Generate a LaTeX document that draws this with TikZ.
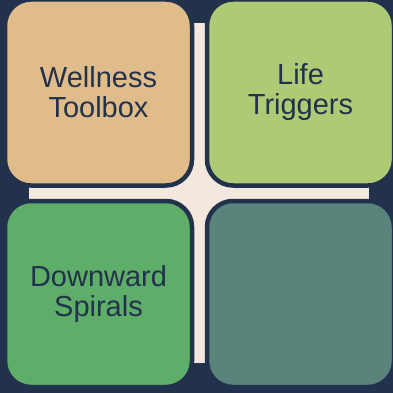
\documentclass[tikz,border=0pt]{standalone}
\usepackage{fontspec}
\setmainfont{Liberation Sans}
\usetikzlibrary{positioning}

\definecolor{navy}{HTML}{22314C}
\definecolor{cream}{HTML}{F4E8DE}
\definecolor{tan}{HTML}{E1BC8B}
\definecolor{lime}{HTML}{AFCA74}
\definecolor{leaf}{HTML}{5EAD68}
\definecolor{teal}{HTML}{5A847B}

\begin{document}
\begin{tikzpicture}[
  x=1pt, y=-1pt,
  tile/.style={draw=navy, line width=4.5pt, rounded corners=26pt, align=center,
               minimum width=187pt, minimum height=186pt, inner sep=0pt,
               text=navy, font=\fontsize{29}{30}\selectfont}
]
% background
\fill[navy] (0,0) rectangle (393,393);
\useasboundingbox (0,0) rectangle (393,393);

% cream cross behind the tiles
\fill[cream] (193,23) rectangle (206,363);
\fill[cream] (29,187) rectangle (369,199);
\fill[cream] (170,165) rectangle (230,225);

\node[tile, fill=tan]  (toolbox)  at (98.5,92.5)   {Wellness\\Toolbox};
\node[tile, fill=lime] (triggers) at (300.5,92.5)  {Life\\Triggers};
\node[tile, fill=leaf] (spirals)  at (98.5,294)    {Downward\\Spirals};
\node[tile, fill=teal] (blank)    at (300.5,294)   {};
\end{tikzpicture}
\end{document}
